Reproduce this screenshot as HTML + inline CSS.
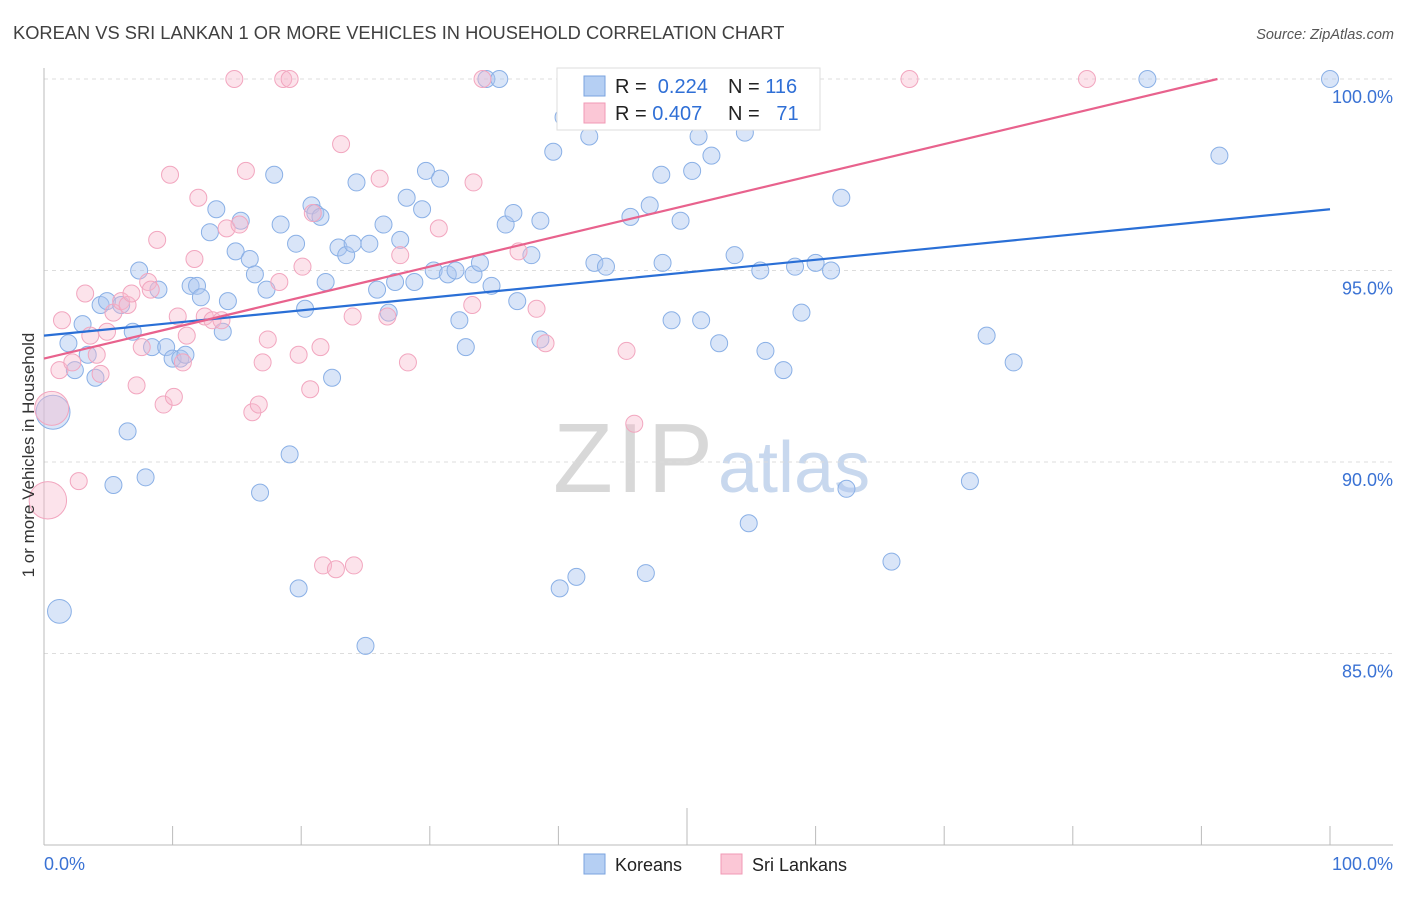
<!DOCTYPE html>
<html><head><meta charset="utf-8"><style>
body{margin:0;background:#fff;font-family:"Liberation Sans",sans-serif}
svg text{font-family:"Liberation Sans",sans-serif}
</style></head><body>
<svg id="chart" width="1406" height="892">
<text x="13" y="39" font-size="18.3" fill="#404040">KOREAN VS SRI LANKAN 1 OR MORE VEHICLES IN HOUSEHOLD CORRELATION CHART</text>
<text x="1394" y="39" font-size="14.5" fill="#555" font-style="italic" text-anchor="end">Source: ZipAtlas.com</text>
<g>
<text x="553" y="492" font-size="98" fill="#d8d8d8" font-family="Liberation Serif" textLength="160">ZIP</text>
<text x="718" y="492" font-size="72" fill="#c8d8ee">atlas</text>
</g>
<g id="grid"></g>
<g id="axes"></g>
<g id="pts"></g>
<g id="lines"></g>
<text transform="translate(34,455) rotate(-90)" font-size="17" fill="#333" text-anchor="middle">1 or more Vehicles in Household</text>
<g>
<rect x="557" y="68" width="263" height="62" fill="#fff" stroke="#ddd"/>
<rect x="584" y="76" width="21" height="20" fill="#b5cff3" stroke="#7aa3df"/>
<rect x="584" y="103" width="21" height="20" fill="#fbc7d6" stroke="#f09ab5"/>
<text x="615" y="93" font-size="20" fill="#222">R = <tspan fill="#2f6fd6">&#160;0.224</tspan></text>
<text x="728" y="93" font-size="20" fill="#222">N = <tspan fill="#2f6fd6">116</tspan></text>
<text x="615" y="120" font-size="20" fill="#222">R = <tspan fill="#2f6fd6">0.407</tspan></text>
<text x="728" y="120" font-size="20" fill="#222">N = <tspan fill="#2f6fd6">&#160;&#160;71</tspan></text>
</g>
<g>
<rect x="584" y="854" width="21" height="20" fill="#b5cff3" stroke="#7aa3df"/>
<text x="615" y="871" font-size="18" fill="#222">Koreans</text>
<rect x="721" y="854" width="21" height="20" fill="#fbc7d6" stroke="#f09ab5"/>
<text x="752" y="871" font-size="18" fill="#222">Sri Lankans</text>
</g>
</svg>
<script>
const yTicks=[85,90,95,100];
const xTickLabels=["0.0%","100.0%"];
const koreanX=[0.7,1.2,1.9,2.4,3.0,3.4,4.0,4.4,4.9,5.4,6.0,6.5,6.9,7.4,7.9,8.4,8.9,9.5,10.0,10.6,11.0,11.4,11.9,12.2,12.9,13.4,13.9,14.3,14.9,15.3,16.0,16.4,16.8,17.3,17.9,18.4,19.1,19.6,19.8,20.3,20.8,21.1,21.5,21.9,22.4,22.9,23.5,24.0,24.3,25.0,25.3,25.9,26.4,26.8,27.3,27.7,28.2,28.8,29.4,29.7,30.3,30.8,31.4,32.0,32.3,32.8,33.4,33.9,34.4,34.8,35.4,35.9,36.5,36.8,37.9,38.6,38.6,39.6,40.1,40.4,41.4,42.4,42.8,43.7,45.6,46.8,47.1,48.0,48.1,48.8,49.5,50.4,50.9,51.1,51.9,52.5,53.7,54.5,54.8,55.7,56.1,57.5,58.4,58.9,60.0,61.2,62.0,62.4,65.9,72.0,73.3,75.4,85.8,91.4,100];
const koreanY=[91.3,86.1,93.1,92.4,93.6,92.8,92.2,94.1,94.2,89.4,94.1,90.8,93.4,95.0,89.6,93.0,94.5,93.0,92.7,92.7,92.8,94.6,94.6,94.3,96.0,96.6,93.4,94.2,95.5,96.3,95.3,94.9,89.2,94.5,97.5,96.2,90.2,95.7,86.7,94.0,96.7,96.5,96.4,94.7,92.2,95.6,95.4,95.7,97.3,85.2,95.7,94.5,96.2,93.9,94.7,95.8,96.9,94.7,96.6,97.6,95.0,97.4,94.9,95.0,93.7,93.0,94.9,95.2,100,94.6,100,96.2,96.5,94.2,95.4,96.3,93.2,98.1,86.7,99.0,87.0,98.5,95.2,95.1,96.4,87.1,96.7,97.5,95.2,93.7,96.3,97.6,98.5,93.7,98.0,93.1,95.4,98.6,88.4,95.0,92.9,92.4,95.1,93.9,95.2,95.0,96.9,89.3,87.4,89.5,93.3,92.6,100,98.0,100];
const koreanSize=[2,1.4];
const lankanX=[0.6,0.3,1.2,1.4,2.2,2.7,3.2,3.6,4.1,4.4,4.9,5.4,6.0,6.5,6.8,7.2,7.6,8.1,8.3,8.8,9.3,9.8,10.1,10.4,10.8,11.1,11.7,12.0,12.5,13.1,13.8,14.2,14.8,15.2,15.7,16.2,16.7,17.0,17.4,18.3,18.6,19.1,19.8,20.1,20.7,20.9,21.5,21.7,22.7,23.1,24.0,24.1,26.1,26.7,27.7,28.3,30.7,33.3,33.4,34.1,36.9,38.3,39.0,40.8,45.3,45.9,54.4,67.3,81.1];
const lankanY=[91.4,89.0,92.4,93.7,92.6,89.5,94.4,93.3,92.8,92.3,93.4,93.9,94.2,94.1,94.4,92.0,93.0,94.7,94.5,95.8,91.5,97.5,91.7,93.8,92.6,93.3,95.3,96.9,93.8,93.7,93.7,96.1,100,96.2,97.6,91.3,91.5,92.6,93.2,94.7,100,100,92.8,95.1,91.9,96.5,93.0,87.3,87.2,98.3,93.8,87.3,97.4,93.8,95.4,92.6,96.1,94.1,97.3,100,95.5,94.0,93.1,100,92.9,91.0,100,100,100];
const lankanSize=[2,2.2];
const koreanTrend=[93.3,96.6];
const lankanTrend=[92.7,100.7];
const NS='http://www.w3.org/2000/svg';
const X0=44,X1=1330,Y100=79,PERPCT=38.3;
const sx=v=>X0+(X1-X0)*v/100;
const sy=v=>Y100+(100-v)*PERPCT;
function mk(tag,attrs,parent){const e=document.createElementNS(NS,tag);for(const k in attrs)e.setAttribute(k,attrs[k]);parent.appendChild(e);return e;}
const grid=document.getElementById('grid'),axes=document.getElementById('axes'),pts=document.getElementById('pts'),lines=document.getElementById('lines');
yTicks.forEach(t=>{
 const l=mk('line',{x1:X0,x2:1393,y1:sy(t),y2:sy(t),stroke:'#ddd','stroke-dasharray':'4,4'},grid);
 
 
 const tx=mk('text',{x:1393,y:sy(t)+24,'font-size':18,fill:'#3a72d4','text-anchor':'end'},grid);
 tx.textContent=t.toFixed(1)+'%';
 
 
});
const ax=mk('line',{x1:X0,x2:1393,y1:845,y2:845,stroke:'#bbb'},axes);


const ay=mk('line',{x1:X0,x2:X0,y1:68,y2:845,stroke:'#bbb'},axes);


for(let i=0;i<=10;i++){
 const x=sx(i*10);
 const tk=mk('line',{x1:x,x2:x,y1:i==5?808:826,y2:845,stroke:'#bbb'},axes);
 
 
}
[[0,'start',X0],[1,'end',1393]].forEach(([i,a,x])=>{
 const t=mk('text',{x:x,y:870,'font-size':18,fill:'#3a72d4','text-anchor':a},axes);
 t.textContent=xTickLabels[i];
 
 
});
function series(xs,ys,sizes,fill,stroke,name){
 xs.forEach((v,i)=>{
  const r=8.5*(sizes[i]||1);
  const c=mk('circle',{cx:sx(v),cy:sy(ys[i]),r:r,fill:fill,stroke:stroke,'stroke-width':1},pts);
  
  
 });
}
series(koreanX,koreanY,koreanSize,'rgba(170,198,240,0.45)','#8ab0e6','korean');
series(lankanX,lankanY,lankanSize,'rgba(248,185,205,0.4)','#f2a6bf','srilankan');
function trend(tr,color,name){
 let xe=100,ye=tr[1];
 if(ye>100){xe=100*(100-tr[0])/(tr[1]-tr[0]);ye=100;}
 const l=mk('line',{x1:sx(0),y1:sy(tr[0]),x2:sx(xe),y2:sy(ye),stroke:color,'stroke-width':2.2},lines);
 
 
}
trend(koreanTrend,'#2a6fd6','korean-trend-line');
trend(lankanTrend,'#e8628d','srilankan-trend-line');
</script>
</body></html>
